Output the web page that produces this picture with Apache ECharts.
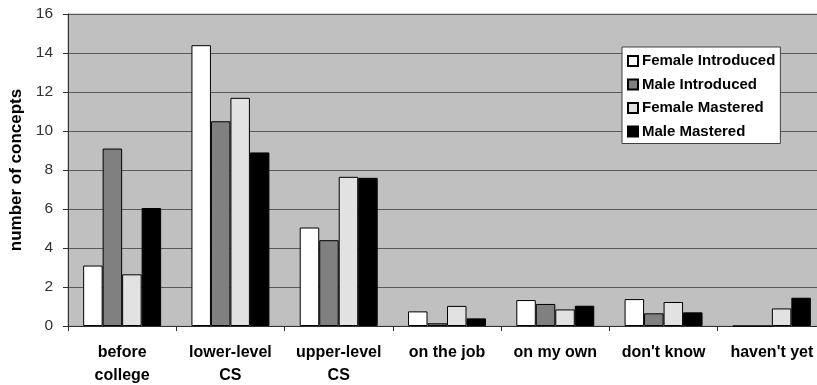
<!DOCTYPE html>
<html>
<head>
<meta charset="utf-8">
<script src="https://cdn.jsdelivr.net/npm/echarts@6/dist/echarts.min.js"></script>
<style>
  html, body { margin: 0; padding: 0; background: #ffffff; }
  #chart { width: 817px; height: 385px; }
</style>
</head>
<body>
<div id="chart"></div>
<script>
// Where students first met / mastered each concept
const categories = ['before\ncollege', 'lower-level\nCS', 'upper-level\nCS', 'on the job', 'on my own', "don't know", "haven't yet"];
const femaleIntroduced = [3.1, 14.4, 5.05, 0.75, 1.33, 1.38, 0];
const maleIntroduced   = [9.1, 10.5, 4.4, 0.14, 1.13, 0.65, 0];
const femaleMastered   = [2.65, 11.7, 7.65, 1.03, 0.85, 1.23, 0.9];
const maleMastered     = [6.05, 8.9, 7.6, 0.39, 1.04, 0.7, 1.45];
const yTicks = { min: 0, max: 16, step: 2 };

const seriesDefs = [
  { name: 'Female Introduced', data: femaleIntroduced, color: '#ffffff' },
  { name: 'Male Introduced',   data: maleIntroduced,   color: '#808080' },
  { name: 'Female Mastered',   data: femaleMastered,   color: '#e2e2e2' },
  { name: 'Male Mastered',     data: maleMastered,     color: '#000000' }
];

const chart = echarts.init(document.getElementById('chart'), null, { renderer: 'canvas' });
chart.setOption({
  animation: false,
  backgroundColor: '#ffffff',
  textStyle: { fontFamily: 'Liberation Sans, Arial, sans-serif' },
  grid: {
    left: 68, top: 14, right: -9, bottom: 59,
    outerBoundsMode: 'none',
    containLabel: false,
    show: true, backgroundColor: '#c0c0c0', borderColor: '#a8a8a8', borderWidth: 1
  },
  legend: {
    orient: 'vertical',
    left: 622, top: 47,
    padding: [6, 5, 4, 5],
    backgroundColor: '#ffffff',
    borderColor: '#404040', borderWidth: 1,
    itemWidth: 10, itemHeight: 10, itemGap: 7.5,
    icon: 'rect',
    textStyle: { fontWeight: 'bold', fontSize: 15, color: '#000', lineHeight: 16, padding: [0, 0, 0, -1] },
    data: seriesDefs.map(s => s.name)
  },
  xAxis: {
    type: 'category',
    data: categories,
    axisLine: { lineStyle: { color: '#303030', width: 1 } },
    axisTick: { show: true, length: 5, lineStyle: { color: '#303030' } },
    axisLabel: { fontWeight: 'bold', fontSize: 16, color: '#000', lineHeight: 23, margin: 15, interval: 0 }
  },
  yAxis: {
    type: 'value',
    min: yTicks.min, max: yTicks.max, interval: yTicks.step,
    name: 'number of concepts',
    nameLocation: 'middle',
    nameGap: 41,
    nameTextStyle: { fontWeight: 'bold', fontSize: 17, color: '#000' },
    axisLine: { show: true, lineStyle: { color: '#303030' } },
    axisTick: { show: true, length: 5, lineStyle: { color: '#303030' } },
    axisLabel: { fontSize: 15.5, color: '#333', margin: 15 },
    splitLine: { show: true, lineStyle: { color: '#5a5a5a', width: 1 } }
  },
  series: seriesDefs.map(s => ({
    name: s.name,
    type: 'bar',
    data: s.data,
    barGap: '0%',
    barCategoryGap: '28%',
    itemStyle: { color: s.color, borderColor: '#000', borderWidth: 1 }
  }))
});
</script>
</body>
</html>
